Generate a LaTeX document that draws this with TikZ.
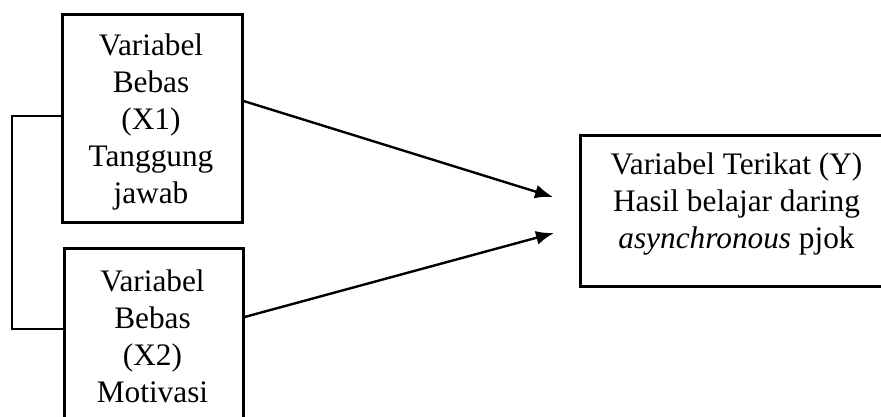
\documentclass[tikz,border=0pt]{standalone}
\usepackage{fontspec}
\setmainfont{Liberation Serif}
\usetikzlibrary{arrows.meta}
\begin{document}
\begin{tikzpicture}[x=1pt,y=-1pt,
  box/.style={draw, line width=2.6pt, inner sep=0pt, anchor=north west},
  label/.style={align=center, font=\fontsize{31.3}{37}\selectfont, inner sep=0pt, anchor=base},
  link/.style={line width=2.4pt, -{Latex[length=18pt,width=14pt]}},
  bracket/.style={line width=1.2pt}]
\useasboundingbox (0,0) rectangle (881,416);
\clip (0,0) rectangle (881,416);

% independent variables
\node[box, minimum width=180pt, minimum height=208pt] (x1) at (61,13) {};
\node[box, minimum width=179pt, minimum height=200pt] (x2) at (63,247) {};
% dependent variable
\node[box, minimum width=315pt, minimum height=151pt] (y) at (579,134) {};

% labels, placed by the baseline of their last line
\node[label] (x1t) at (151,203) {Variabel\\Bebas\\(X1)\\Tanggung\\jawab};
\node[label] (x2t) at (152.5,402) {Variabel\\Bebas\\(X2)\\Motivasi};
\node[label] (yt) at (736.5,248) {Variabel Terikat (Y)\\Hasil belajar daring\\\textit{asynchronous} pjok};

% arrow ends
\coordinate (a1) at (x1.east |- 0,101);
\coordinate (a2) at (x2.east |- 0,317);
\coordinate (b1) at (553,197);
\coordinate (b2) at (554,233);
\draw[link] (a1) -- (b1);
\draw[link] (a2) -- (b2);

% bracket joining the two independent variables
\coordinate (c1) at (x1.west |- 0,116);
\coordinate (c2) at (x2.west |- 0,329);
\draw[bracket] (c1) -| (12,222.5) |- (c2);
\end{tikzpicture}
\end{document}
